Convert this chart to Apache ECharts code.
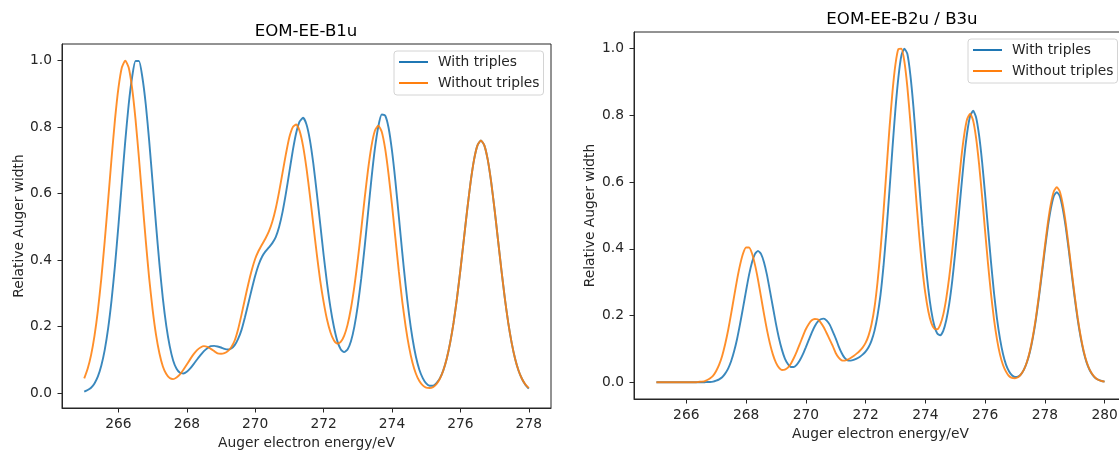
<!DOCTYPE html>
<html>
<head>
<meta charset="utf-8">
<script src="https://cdn.jsdelivr.net/npm/echarts@6/dist/echarts.min.js"></script>
<style>
  html, body { margin: 0; padding: 0; background: #ffffff; }
  #chart { width: 1119px; height: 450px; }
</style>
</head>
<body>
<div id="chart"></div>
<script>
// Sampled spectra: relative Auger width on a 0.1 eV energy grid
const energyStep = 0.1;

// Panel 1: EOM-EE-B1u, 265.0 ... 278.0 eV
const b1uStart = 265.0;
const b1uWithTriples = [
  0.004, 0.009, 0.016, 0.029, 0.050, 0.083, 0.130, 0.195, 0.280, 0.384,
  0.504, 0.632, 0.758, 0.868, 0.950, 0.999, 0.999, 0.950, 0.868, 0.758,
  0.633, 0.506, 0.387, 0.284, 0.202, 0.141, 0.098, 0.073, 0.061, 0.059,
  0.064, 0.074, 0.087, 0.101, 0.114, 0.126, 0.135, 0.141, 0.142, 0.140,
  0.137, 0.133, 0.131, 0.134, 0.144, 0.163, 0.190, 0.228, 0.270, 0.313,
  0.353, 0.386, 0.410, 0.426, 0.438, 0.451, 0.469, 0.500, 0.545, 0.602,
  0.666, 0.730, 0.783, 0.817, 0.828, 0.808, 0.761, 0.690, 0.603, 0.510,
  0.416, 0.331, 0.258, 0.200, 0.157, 0.132, 0.123, 0.131, 0.156, 0.200,
  0.263, 0.344, 0.439, 0.542, 0.645, 0.735, 0.802, 0.838, 0.835, 0.798,
  0.729, 0.637, 0.531, 0.423, 0.323, 0.235, 0.164, 0.109, 0.070, 0.045,
  0.029, 0.022, 0.022, 0.030, 0.044, 0.068, 0.103, 0.151, 0.211, 0.285,
  0.370, 0.461, 0.552, 0.635, 0.702, 0.745, 0.760, 0.745, 0.702, 0.635,
  0.552, 0.461, 0.370, 0.285, 0.211, 0.151, 0.103, 0.068, 0.043, 0.025,
  0.013
];
const b1uWithoutTriples = [
  0.044, 0.073, 0.114, 0.172, 0.249, 0.345, 0.458, 0.581, 0.707, 0.823,
  0.917, 0.979, 1.000, 0.979, 0.917, 0.823, 0.707, 0.581, 0.458, 0.345,
  0.251, 0.175, 0.119, 0.080, 0.057, 0.045, 0.042, 0.047, 0.056, 0.070,
  0.086, 0.102, 0.117, 0.129, 0.137, 0.141, 0.139, 0.133, 0.126, 0.119,
  0.118, 0.120, 0.126, 0.138, 0.158, 0.192, 0.236, 0.283, 0.329, 0.370,
  0.404, 0.428, 0.447, 0.465, 0.486, 0.515, 0.555, 0.606, 0.663, 0.720,
  0.770, 0.800, 0.808, 0.788, 0.743, 0.676, 0.594, 0.506, 0.419, 0.339,
  0.274, 0.221, 0.183, 0.159, 0.149, 0.154, 0.172, 0.205, 0.255, 0.321,
  0.401, 0.491, 0.585, 0.672, 0.743, 0.789, 0.804, 0.786, 0.735, 0.658,
  0.566, 0.465, 0.366, 0.276, 0.200, 0.138, 0.091, 0.058, 0.036, 0.023,
  0.016, 0.015, 0.018, 0.027, 0.043, 0.068, 0.103, 0.151, 0.211, 0.285,
  0.370, 0.461, 0.552, 0.635, 0.702, 0.745, 0.760, 0.745, 0.702, 0.635,
  0.552, 0.461, 0.370, 0.285, 0.211, 0.151, 0.103, 0.068, 0.043, 0.026,
  0.015
];

// Panel 2: EOM-EE-B2u / B3u, 265.0 ... 280.0 eV
const b2uStart = 265.0;
const b2uWithTriples = [
  0, 0, 0, 0, 0, 0, 0, 0, 0, 0,
  0, 0, 0, 0, 0, 0, 0, 0.001, 0.001, 0.002,
  0.005, 0.009, 0.015, 0.026, 0.041, 0.063, 0.093, 0.130, 0.175, 0.224,
  0.274, 0.322, 0.360, 0.385, 0.394, 0.385, 0.360, 0.322, 0.274, 0.225,
  0.176, 0.133, 0.098, 0.071, 0.055, 0.046, 0.046, 0.053, 0.066, 0.084,
  0.105, 0.127, 0.149, 0.168, 0.182, 0.189, 0.191, 0.185, 0.173, 0.153,
  0.132, 0.108, 0.088, 0.073, 0.066, 0.065, 0.067, 0.071, 0.076, 0.083,
  0.092, 0.105, 0.125, 0.155, 0.200, 0.262, 0.348, 0.454, 0.575, 0.701,
  0.819, 0.915, 0.980, 1.000, 0.984, 0.921, 0.828, 0.712, 0.590, 0.471,
  0.366, 0.279, 0.214, 0.170, 0.146, 0.141, 0.154, 0.186, 0.235, 0.303,
  0.388, 0.482, 0.580, 0.673, 0.748, 0.798, 0.814, 0.794, 0.740, 0.661,
  0.564, 0.460, 0.359, 0.267, 0.190, 0.130, 0.085, 0.053, 0.033, 0.021,
  0.016, 0.017, 0.024, 0.038, 0.060, 0.091, 0.134, 0.188, 0.253, 0.324,
  0.397, 0.465, 0.520, 0.558, 0.570, 0.558, 0.520, 0.465, 0.397, 0.324,
  0.253, 0.188, 0.134, 0.091, 0.059, 0.037, 0.022, 0.012, 0.007, 0.004,
  0.002
];
const b2uWithoutTriples = [
  0, 0, 0, 0, 0, 0, 0, 0, 0, 0,
  0, 0, 0, 0, 0.001, 0.002, 0.003, 0.007, 0.012, 0.020,
  0.034, 0.053, 0.079, 0.114, 0.156, 0.205, 0.257, 0.308, 0.352, 0.386,
  0.404, 0.404, 0.386, 0.352, 0.308, 0.257, 0.205, 0.157, 0.116, 0.083,
  0.059, 0.044, 0.037, 0.038, 0.044, 0.056, 0.073, 0.093, 0.115, 0.138,
  0.159, 0.175, 0.186, 0.190, 0.189, 0.179, 0.165, 0.147, 0.128, 0.109,
  0.088, 0.074, 0.066, 0.065, 0.068, 0.073, 0.079, 0.086, 0.094, 0.104,
  0.118, 0.140, 0.174, 0.225, 0.300, 0.396, 0.510, 0.636, 0.761, 0.870,
  0.953, 0.999, 1.000, 0.961, 0.884, 0.780, 0.662, 0.544, 0.434, 0.341,
  0.267, 0.213, 0.178, 0.161, 0.159, 0.173, 0.203, 0.251, 0.315, 0.394,
  0.484, 0.579, 0.669, 0.741, 0.789, 0.805, 0.785, 0.732, 0.653, 0.557,
  0.454, 0.354, 0.264, 0.188, 0.128, 0.083, 0.052, 0.032, 0.019, 0.013,
  0.012, 0.015, 0.024, 0.038, 0.061, 0.094, 0.138, 0.193, 0.259, 0.332,
  0.407, 0.477, 0.534, 0.572, 0.585, 0.572, 0.534, 0.477, 0.407, 0.332,
  0.259, 0.193, 0.138, 0.094, 0.061, 0.038, 0.023, 0.013, 0.007, 0.004,
  0.002
];

// Tick labels
const b1uEnergyTicks = [266, 268, 270, 272, 274, 276, 278];
const b2uEnergyTicks = [266, 268, 270, 272, 274, 276, 278, 280];
const widthTicks = [0.0, 0.2, 0.4, 0.6, 0.8, 1.0];

const seriesNames = ['With triples', 'Without triples'];
const titles = ['EOM-EE-B1u', 'EOM-EE-B2u / B3u'];
const xAxisName = 'Auger electron energy/eV';
const yAxisName = 'Relative Auger width';

const BLUE = '#1f77b4';
const ORANGE = '#ff7f0e';
const INK = '#262626';
const FONT = 'DejaVu Sans';
const LABEL_SIZE = 13.8;
const TITLE_SIZE = 16.6;

function toPairs(start, values) {
  return values.map((v, i) => [Number((start + i * energyStep).toFixed(1)), v]);
}

function energyAxis(gridIndex, min, max, ticks, nameGap) {
  return {
    type: 'value', gridIndex, min, max,
    name: xAxisName, nameLocation: 'middle', nameGap,
    nameTextStyle: { fontSize: LABEL_SIZE, color: INK, fontFamily: FONT },
    axisLine: { show: true, onZero: false, lineStyle: { color: INK, width: 1 } },
    axisTick: { show: true, length: 4.5, customValues: ticks, lineStyle: { color: INK, width: 1 } },
    axisLabel: { customValues: ticks, margin: 9, fontSize: LABEL_SIZE, color: INK, fontFamily: FONT },
    splitLine: { show: false }
  };
}

function widthAxis(gridIndex, min, max, nameGap) {
  return {
    type: 'value', gridIndex, min, max,
    name: yAxisName, nameLocation: 'middle', nameGap, nameRotate: 90,
    nameTextStyle: { fontSize: LABEL_SIZE, color: INK, fontFamily: FONT },
    axisLine: { show: true, onZero: false, lineStyle: { color: INK, width: 1 } },
    axisTick: { show: true, length: 4.5, customValues: widthTicks, lineStyle: { color: INK, width: 1 } },
    axisLabel: {
      customValues: widthTicks, margin: 10, fontSize: LABEL_SIZE, color: INK, fontFamily: FONT,
      formatter: v => Number(v).toFixed(1)
    },
    splitLine: { show: false }
  };
}

function curve(name, color, axisIndex, start, values, z) {
  return {
    name, type: 'line', xAxisIndex: axisIndex, yAxisIndex: axisIndex,
    data: toPairs(start, values),
    showSymbol: false, symbol: 'none', smooth: 0.2, z,
    lineStyle: { color, width: 1.9, opacity: 0.88 },
    itemStyle: { color },
    emphasis: { disabled: true }
  };
}

function legendAt(left, top) {
  return {
    orient: 'vertical', left, top,
    data: seriesNames, icon: 'rect', itemWidth: 29, itemHeight: 2, itemGap: 5,
    padding: [3, 4, 4, 5],
    backgroundColor: '#ffffff', borderColor: '#d4d4d4', borderWidth: 1, borderRadius: 3,
    textStyle: { fontSize: LABEL_SIZE, color: INK, fontFamily: FONT, lineHeight: 16, padding: [0, 0, 0, 5] },
    selectedMode: false
  };
}

function panelGrid(left, top, width, height) {
  return {
    left, top, width, height,
    show: true, borderColor: INK, borderWidth: 1,
    outerBoundsMode: 'none', containLabel: false
  };
}

const chart = echarts.init(document.getElementById('chart'), null, { renderer: 'canvas' });
chart.setOption({
  animation: false,
  backgroundColor: '#ffffff',
  textStyle: { fontFamily: FONT },
  title: [
    { text: titles[0], left: 306, top: 23, textAlign: 'center', padding: 0,
      textStyle: { fontSize: TITLE_SIZE, fontWeight: 'normal', color: '#000', fontFamily: FONT } },
    { text: titles[1], left: 902, top: 11, textAlign: 'center', padding: 0,
      textStyle: { fontSize: TITLE_SIZE, fontWeight: 'normal', color: '#000', fontFamily: FONT } }
  ],
  legend: [legendAt(394, 51), legendAt(968, 39)],
  grid: [
    panelGrid(62, 44, 489, 364),
    panelGrid(634, 32, 493, 367)
  ],
  xAxis: [
    energyAxis(0, 264.35, 278.65, b1uEnergyTicks, 28),
    energyAxis(1, 264.25, 280.75, b2uEnergyTicks, 28)
  ],
  yAxis: [
    widthAxis(0, -0.045, 1.05, 36),
    widthAxis(1, -0.05, 1.05, 37)
  ],
  series: [
    curve(seriesNames[0], BLUE, 0, b1uStart, b1uWithTriples, 2),
    curve(seriesNames[1], ORANGE, 0, b1uStart, b1uWithoutTriples, 3),
    curve(seriesNames[0], BLUE, 1, b2uStart, b2uWithTriples, 2),
    curve(seriesNames[1], ORANGE, 1, b2uStart, b2uWithoutTriples, 3)
  ]
});
</script>
</body>
</html>
